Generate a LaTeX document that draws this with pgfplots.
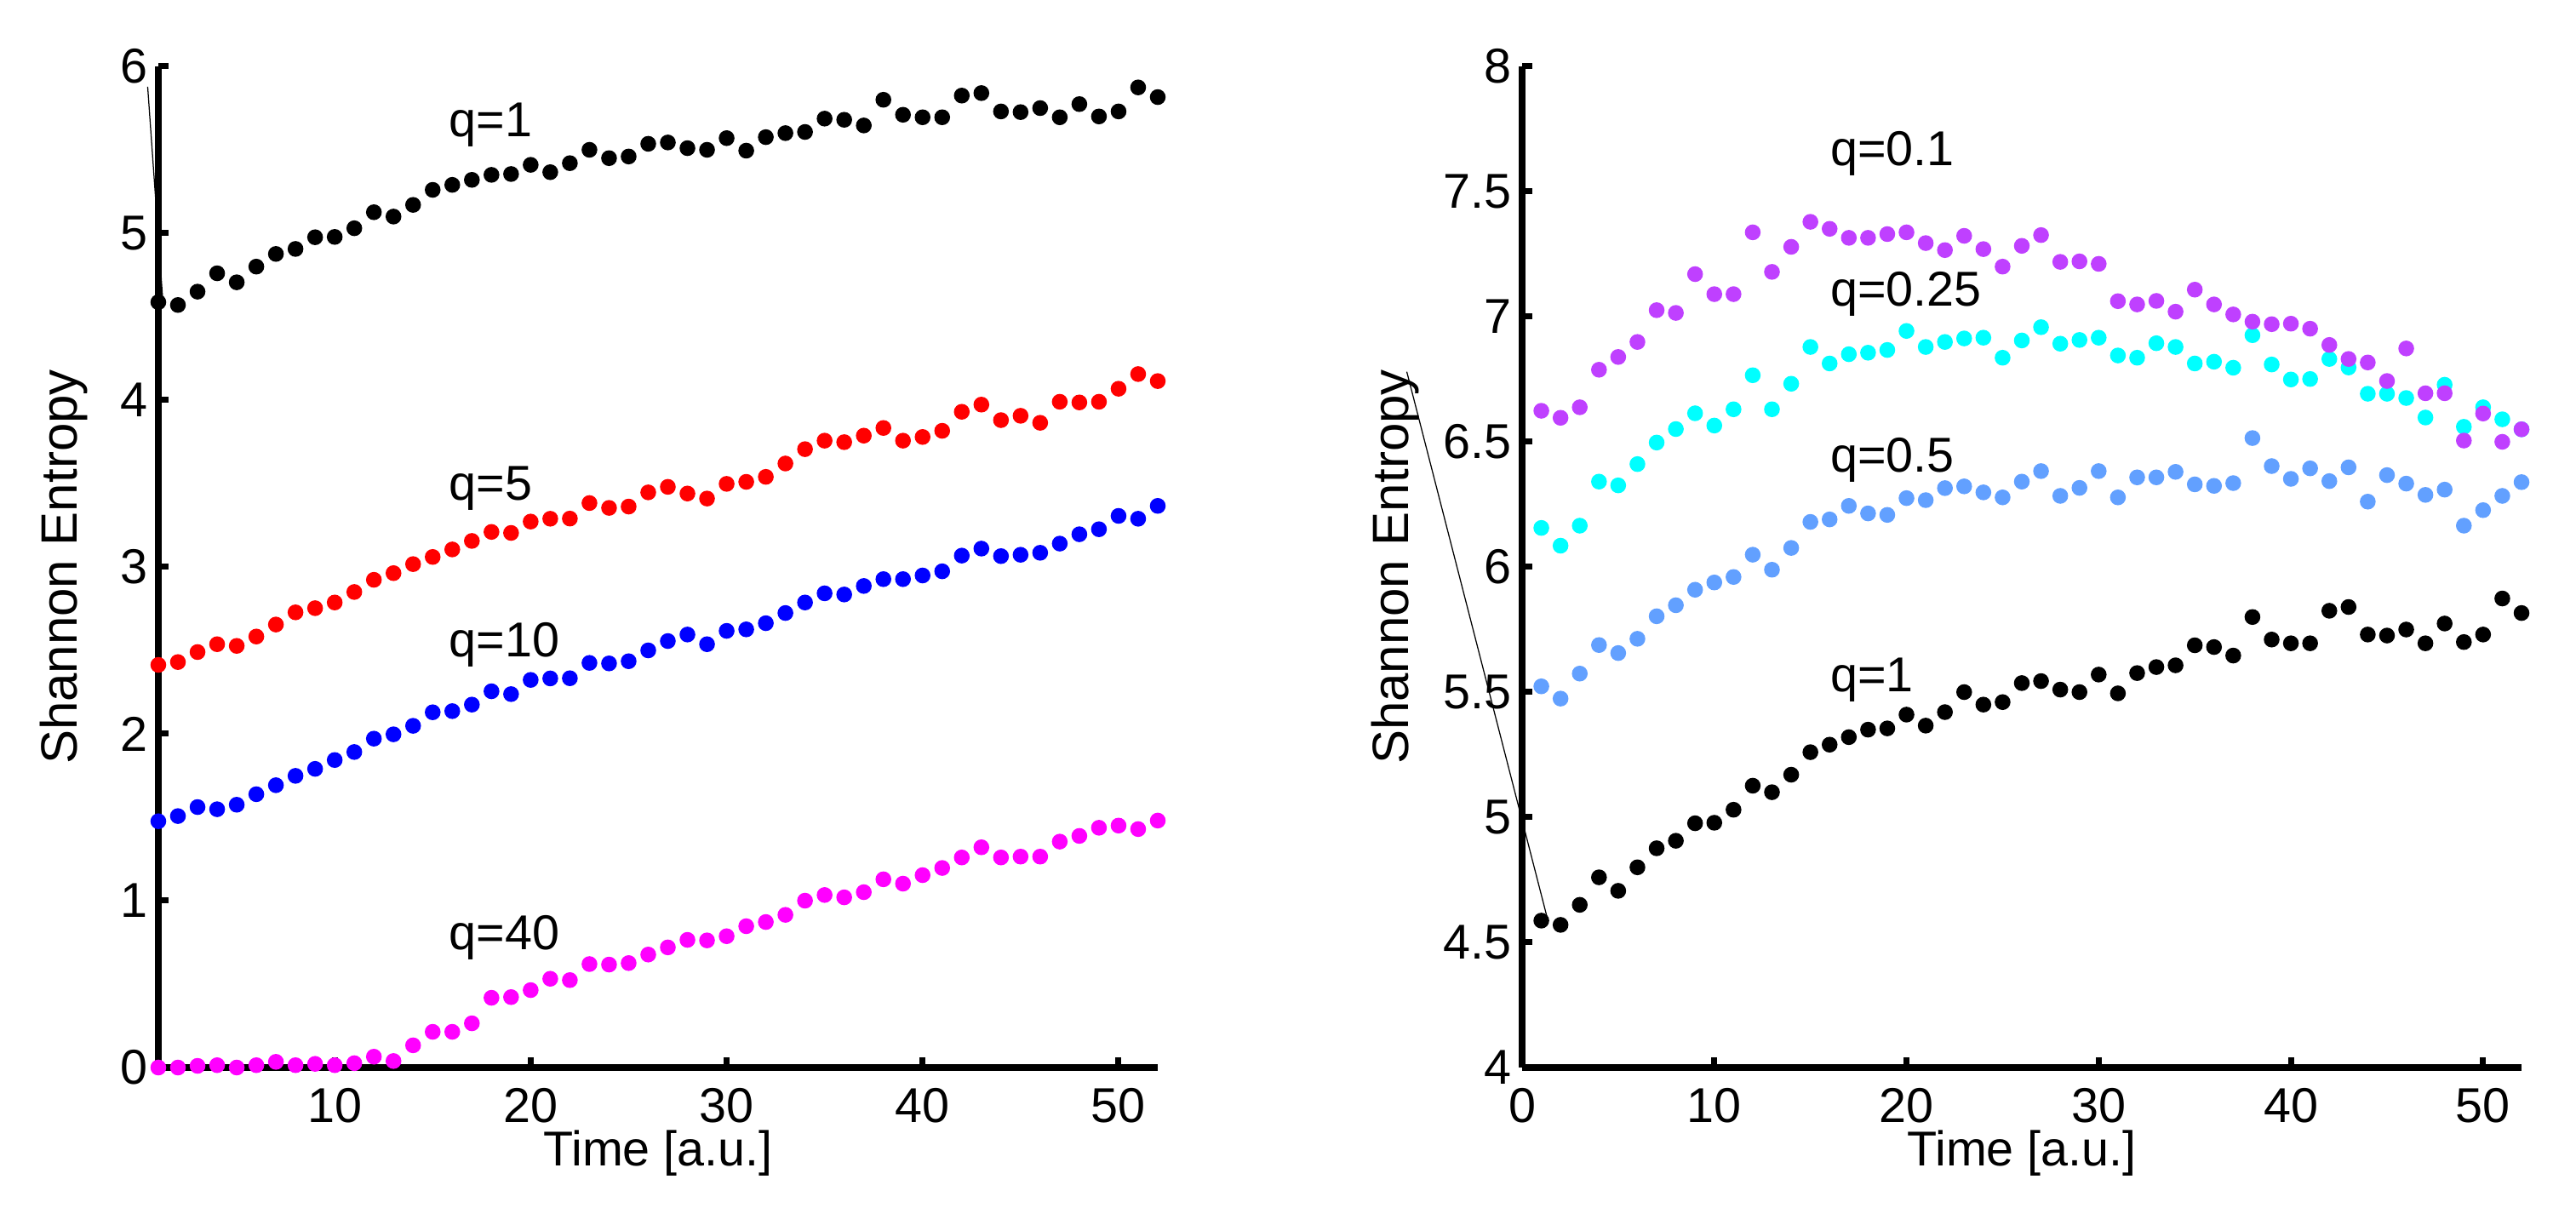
\documentclass[border=0pt]{standalone}
\usepackage{fontspec}
\setmainfont{Liberation Sans}
\usepackage{pgfplots}
\usepackage{pgfplotstable}
\pgfplotsset{compat=1.18}

\definecolor{qpurple}{RGB}{191,64,255}
\definecolor{qcyan}{RGB}{0,255,255}
\definecolor{qlblue}{RGB}{98,160,255}
\definecolor{qred}{RGB}{255,0,0}
\definecolor{qblue}{RGB}{0,0,255}
\definecolor{qmag}{RGB}{255,0,255}

\pgfplotstableread{
t q1 q5 q10 q40
1 4.587 2.413 1.476 0.000
2 4.570 2.430 1.507 0.000
3 4.650 2.490 1.561 0.010
4 4.760 2.537 1.548 0.014
5 4.706 2.527 1.575 0.000
6 4.800 2.583 1.638 0.014
7 4.876 2.655 1.692 0.034
8 4.906 2.728 1.748 0.014
9 4.976 2.753 1.790 0.022
10 4.978 2.787 1.843 0.014
11 5.030 2.850 1.891 0.026
12 5.126 2.923 1.971 0.065
13 5.100 2.963 1.997 0.039
14 5.170 3.017 2.048 0.133
15 5.260 3.060 2.129 0.214
16 5.290 3.105 2.136 0.214
17 5.320 3.156 2.175 0.265
18 5.350 3.210 2.255 0.418
19 5.355 3.204 2.238 0.422
20 5.410 3.272 2.323 0.464
21 5.366 3.289 2.332 0.532
22 5.420 3.290 2.333 0.524
23 5.500 3.383 2.425 0.620
24 5.450 3.354 2.422 0.617
25 5.460 3.362 2.435 0.626
26 5.536 3.447 2.500 0.677
27 5.544 3.480 2.556 0.720
28 5.510 3.440 2.595 0.765
29 5.500 3.410 2.537 0.762
30 5.570 3.498 2.617 0.787
31 5.495 3.510 2.626 0.847
32 5.576 3.540 2.663 0.872
33 5.600 3.620 2.724 0.915
34 5.607 3.706 2.787 1.000
35 5.687 3.757 2.842 1.034
36 5.680 3.748 2.835 1.020
37 5.646 3.787 2.886 1.051
38 5.800 3.833 2.927 1.128
39 5.710 3.757 2.927 1.102
40 5.695 3.779 2.949 1.153
41 5.695 3.816 2.974 1.196
42 5.825 3.930 3.068 1.259
43 5.840 3.973 3.110 1.320
44 5.730 3.880 3.065 1.259
45 5.726 3.906 3.073 1.264
46 5.750 3.864 3.085 1.264
47 5.695 3.990 3.140 1.354
48 5.774 3.986 3.196 1.388
49 5.700 3.990 3.226 1.437
50 5.730 4.068 3.306 1.450
51 5.874 4.156 3.289 1.429
52 5.816 4.114 3.366 1.480
}\lefttable

\pgfplotstableread{
t q01 q025 q05
1 6.624 6.156 5.523
2 6.596 6.085 5.474
3 6.638 6.165 5.574
4 6.788 6.341 5.688
5 6.839 6.326 5.656
6 6.899 6.411 5.713
7 7.026 6.497 5.803
8 7.015 6.551 5.847
9 7.170 6.614 5.909
10 7.090 6.565 5.938
11 7.090 6.630 5.960
12 7.337 6.766 6.049
13 7.179 6.630 5.989
14 7.279 6.732 6.076
15 7.379 6.879 6.180
16 7.351 6.813 6.190
17 7.315 6.850 6.244
18 7.315 6.856 6.214
19 7.330 6.867 6.208
20 7.337 6.943 6.275
21 7.294 6.879 6.267
22 7.266 6.899 6.315
23 7.323 6.913 6.322
24 7.270 6.916 6.298
25 7.200 6.836 6.278
26 7.283 6.905 6.341
27 7.326 6.958 6.383
28 7.219 6.892 6.284
29 7.221 6.907 6.316
30 7.211 6.916 6.383
31 7.062 6.845 6.278
32 7.049 6.836 6.358
33 7.063 6.894 6.358
34 7.020 6.879 6.380
35 7.108 6.813 6.330
36 7.049 6.820 6.324
37 7.009 6.796 6.335
38 6.980 6.926 6.515
39 6.970 6.809 6.403
40 6.972 6.749 6.352
41 6.952 6.751 6.394
42 6.887 6.831 6.343
43 6.831 6.797 6.398
44 6.817 6.692 6.261
45 6.743 6.692 6.367
46 6.873 6.675 6.333
47 6.694 6.597 6.288
48 6.694 6.728 6.309
49 6.505 6.560 6.165
50 6.613 6.638 6.227
51 6.500 6.590 6.284
52 6.550 6.550 6.339
}\righttable

\pgfplotsset{
  matstyle/.style={
    scale only axis,
    width=234.8pt, height=235.2pt,
    axis lines*=left,
    axis line style={line width=1.46pt, black},
    tick align=inside,
    major tick length=2.4pt,
    tick style={line width=1.4pt, black},
    xticklabel style={inner sep=0pt, yshift=-4.7pt, font=\fontsize{11.5}{13}\selectfont},
    yticklabel style={inner sep=0pt, xshift=-2.3pt, font=\fontsize{11.5}{13}\selectfont},
    xlabel style={inner sep=0pt, anchor=north, font=\fontsize{11.5}{13}\selectfont},
    ylabel style={inner sep=0pt, anchor=north, font=\fontsize{12}{14}\selectfont},
    clip=false,
  },
  dots/.style={only marks, mark=*, mark size=1.65pt},
}
\tikzset{qlab/.style={anchor=base west, inner sep=0pt, font=\fontsize{11.5}{13}\selectfont}}

\begin{document}
\begin{tikzpicture}
\useasboundingbox (-37.2pt,-33pt) rectangle (568pt,250.8pt);
\begin{axis}[matstyle,
  at={(0pt,0pt)}, anchor=south west,
  xmin=1, xmax=52, ymin=0, ymax=6,
  xtick={10,20,30,40,50}, xticklabels={10,20,30,40,50},
  ytick={0,1,2,3,4,5,6}, yticklabels={0,1,2,3,4,5,6},
  xlabel={Time [a.u.]}, ylabel={Shannon Entropy},
  xlabel style={at={(axis description cs:0.5,-0.0616)}},
  ylabel style={at={(axis description cs:-0.1195,0.5)}},
]
\addplot[black, line width=0.25pt, no marks] coordinates {(0.456,5.878) (1.24,4.577)};
\addplot[dots, black] table[x=t, y=q1] {\lefttable};
\addplot[dots, qred] table[x=t, y=q5] {\lefttable};
\addplot[dots, qblue] table[x=t, y=q10] {\lefttable};
\addplot[dots, qmag] table[x=t, y=q40] {\lefttable};
\node[qlab] at (axis cs:15.8,5.58) {q=1};
\node[qlab] at (axis cs:15.8,3.40) {q=5};
\node[qlab] at (axis cs:15.8,2.46) {q=10};
\node[qlab] at (axis cs:15.8,0.707) {q=40};
\end{axis}

\begin{axis}[matstyle,
  at={(320.4pt,0pt)}, anchor=south west,
  xmin=0, xmax=52, ymin=4, ymax=8,
  xtick={0,10,20,30,40,50}, xticklabels={0,10,20,30,40,50},
  ytick={4,4.5,5,5.5,6,6.5,7,7.5,8},
  yticklabels={4,4.5,5,5.5,6,6.5,7,7.5,8},
  xlabel={Time [a.u.]}, ylabel={Shannon Entropy},
  xlabel style={at={(axis description cs:0.5,-0.0616)}},
  ylabel style={at={(axis description cs:-0.152,0.5)}},
]
\addplot[black, line width=0.25pt, no marks] coordinates {(-6.0,6.78) (1.3,4.60)};
\addplot[dots, black] table[x=t, y=q1] {\lefttable};
\addplot[dots, qlblue] table[x=t, y=q05] {\righttable};
\addplot[dots, qcyan] table[x=t, y=q025] {\righttable};
\addplot[dots, qpurple] table[x=t, y=q01] {\righttable};
\node[qlab] at (axis cs:16.0,7.604) {q=0.1};
\node[qlab] at (axis cs:16.0,7.043) {q=0.25};
\node[qlab] at (axis cs:16.0,6.38) {q=0.5};
\node[qlab] at (axis cs:16.0,5.503) {q=1};
\end{axis}
\end{tikzpicture}
\end{document}
